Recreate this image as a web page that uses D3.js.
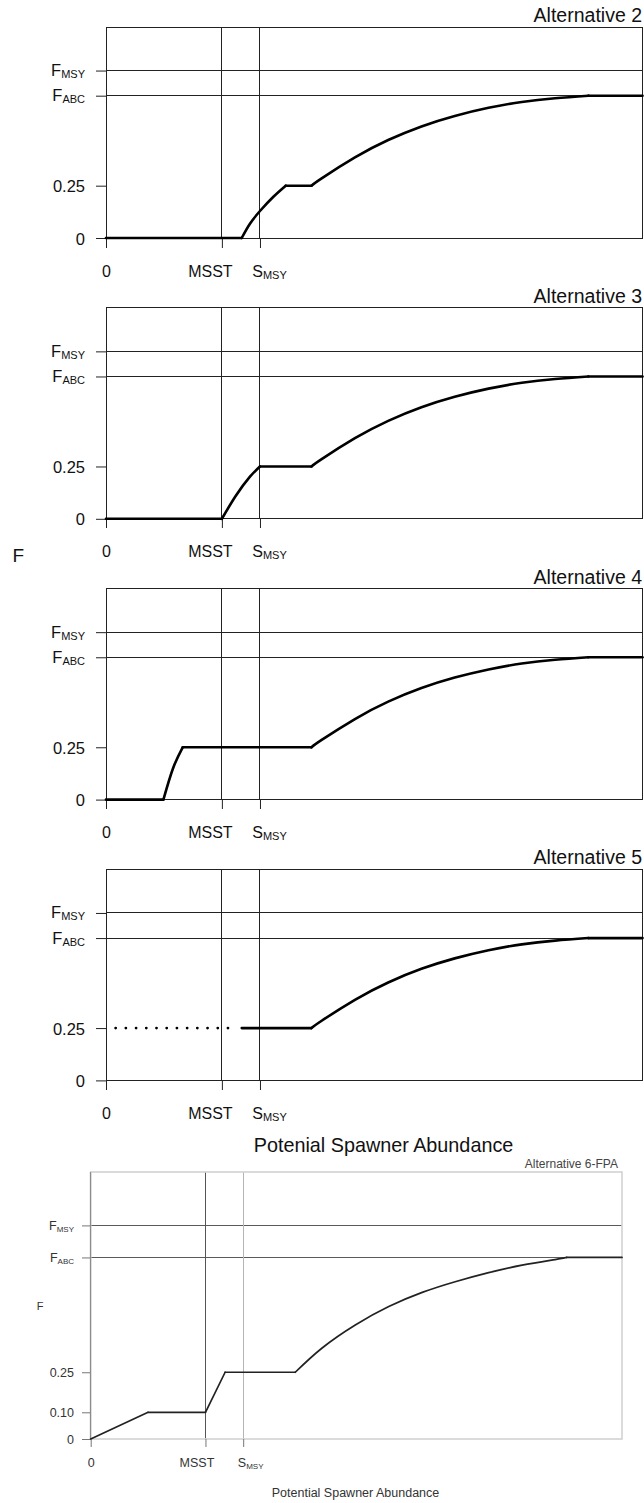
<!DOCTYPE html>
<html><head><meta charset="utf-8">
<script src="https://cdn.jsdelivr.net/npm/d3@7"></script>
<style>body{margin:0;background:#fff} svg{display:block} text{font-family:"Liberation Sans",Arial,sans-serif}</style>
</head><body><svg id="c" width="644" height="1503"></svg>
<script>
// ---------------- data ----------------
const panelTitles = ["Alternative 2", "Alternative 3", "Alternative 4", "Alternative 5"];
const alt6Title = "Alternative 6-FPA";
const mainTitle = "Potenial Spawner Abundance";
const xAxisTitle = "Potential Spawner Abundance";
const yAxisTitle = "F";

const xTickValues = [0, 21.6, 28.7];
const xTickLabels = [["0", ""], ["MSST", ""], ["S", "MSY"]];
const yTickValues = [0, 0.25, 0.68, 0.80];
const yTickLabels = [["0", ""], ["0.25", ""], ["F", "ABC"], ["F", "MSY"]];
const yTickValues6 = [0, 0.10, 0.25, 0.68, 0.80];
const yTickLabels6 = [["0", ""], ["0.10", ""], ["0.25", ""], ["F", "ABC"], ["F", "MSY"]];

const refLevels = [0.80, 0.68];   // F_MSY, F_ABC
const refStocks = [21.6, 28.7];   // MSST, S_MSY

// shared upper control-rule curve (Alternatives 2-5)
const upperCurve = [[38.3, 0.25], [40.2, 0.285], [46.4, 0.385], [52.6, 0.468], [58.8, 0.533],
  [65.0, 0.583], [71.3, 0.622], [77.5, 0.650], [83.7, 0.668], [89.9, 0.68]];
const topFlat = [[89.9, 0.68], [100, 0.68]];

const alt2 = [
  [[0, 0], [25.3, 0]],
  [[25.3, 0], [26.8, 0.067], [28.7, 0.129], [31.2, 0.197], [33.5, 0.25]],
  [[33.5, 0.25], [38.3, 0.25]],
  upperCurve, topFlat];
const alt3 = [
  [[0, 0], [21.6, 0]],
  [[21.6, 0], [24.2, 0.11], [26.8, 0.20], [28.7, 0.25]],
  [[28.7, 0.25], [38.3, 0.25]],
  upperCurve, topFlat];
const alt4 = [
  [[0, 0], [10.7, 0]],
  [[10.7, 0], [12.5, 0.15], [14.3, 0.25]],
  [[14.3, 0.25], [38.3, 0.25]],
  upperCurve, topFlat];
const alt5 = [
  [[25.3, 0.25], [38.3, 0.25]],
  upperCurve, topFlat];
const alt5Dotted = [[1.8, 0.25], [24.6, 0.25]];

const alt6Curve = [[38.5, 0.25], [43.5, 0.34], [49.8, 0.427], [56.1, 0.496], [62.4, 0.549],
  [68.6, 0.589], [74.9, 0.623], [81.2, 0.651], [87.4, 0.672], [89.6, 0.68]];
const alt6 = [
  [[0, 0], [10.8, 0.10]],
  [[10.8, 0.10], [21.6, 0.10]],
  [[21.6, 0.10], [25.3, 0.25]],
  [[25.3, 0.25], [38.5, 0.25]],
  alt6Curve,
  [[89.6, 0.68], [100, 0.68]]];

const solidSeries = [alt2, alt3, alt4, alt5];

// ---------------- drawing ----------------
const svg = d3.select("#c");
const crisp = v => Math.round(v - 0.5) + 0.5;

function labelTspans(textSel, labels, mainSize, subSize, subDy) {
  textSel.each(function (d, i) {
    const t = d3.select(this);
    const [main, sub] = labels[i];
    t.text(null);
    t.append("tspan").attr("font-size", mainSize).text(main);
    if (sub) t.append("tspan").attr("font-size", subSize).attr("dy", subDy).text(sub);
  });
}

function drawPieces(g, x, y, pieces, color, width) {
  pieces.forEach(p => {
    const line = d3.line().x(d => x(d[0])).y(d => y(d[1]))
      .curve(p.length > 2 ? d3.curveNatural : d3.curveLinear);
    g.append("path").attr("d", line(p)).attr("fill", "none")
      .attr("stroke", color).attr("stroke-width", width)
      .attr("stroke-linecap", "round").attr("stroke-linejoin", "round");
  });
}

// Panels: Alternatives 2-5
for (let i = 0; i < 4; i++) {
  const bottom = 238 + i * 280.8;
  const top = 27 + i * 280.8;
  const x = d3.scaleLinear().domain([0, 100]).range([106, 642.5]);
  const y = d3.scaleLinear().domain([0, 1]).range([bottom, bottom - 209.3]);
  const g = svg.append("g");

  g.selectAll(".h").data(refLevels).join("line")
    .attr("x1", x(0)).attr("x2", x(100))
    .attr("y1", d => crisp(y(d))).attr("y2", d => crisp(y(d)))
    .attr("stroke", "#222").attr("stroke-width", 1);
  g.selectAll(".v").data(refStocks).join("line")
    .attr("x1", d => crisp(x(d))).attr("x2", d => crisp(x(d)))
    .attr("y1", crisp(top)).attr("y2", crisp(y(0)))
    .attr("stroke", "#222").attr("stroke-width", 1);

  g.append("rect").attr("x", crisp(x(0))).attr("y", crisp(top))
    .attr("width", crisp(x(100)) - crisp(x(0))).attr("height", crisp(y(0)) - crisp(top))
    .attr("fill", "none").attr("stroke", "#222").attr("stroke-width", 1);

  const ya = g.append("g").attr("transform", `translate(${crisp(x(0)) - 0.5},0)`)
    .call(d3.axisLeft(y).tickValues(yTickValues).tickSize(10).tickPadding(11));
  ya.select(".domain").remove();
  ya.selectAll(".tick line").attr("stroke", "#222");
  const yt = ya.selectAll(".tick text").attr("fill", "#111").attr("font-family", null)
    .attr("dy", (d) => (d > 0.5 ? "5" : "6"));
  labelTspans(yt, yTickLabels, "16.5px", "11px", 2);

  const xa = g.append("g").attr("transform", `translate(0,${crisp(y(0)) - 0.5})`)
    .call(d3.axisBottom(x).tickValues(xTickValues).tickSize(10));
  xa.select(".domain").remove();
  xa.selectAll(".tick line").attr("stroke", "#222");
  const xt = xa.selectAll(".tick text").attr("fill", "#111").attr("font-family", null)
    .attr("y", 38.5).attr("dy", 0)
    .attr("dx", (d, k) => [0, -12, 9][k]);
  labelTspans(xt, xTickLabels, "16px", "11px", 2);

  g.append("text").attr("x", 642).attr("y", top - 5).attr("text-anchor", "end")
    .attr("font-size", "19.5px").attr("fill", "#111").text(panelTitles[i]);

  drawPieces(g, x, y, solidSeries[i], "#000", 2.6);
  if (i === 3) {
    g.append("path").attr("d", d3.line().x(d => x(d[0])).y(d => y(d[1]))(alt5Dotted))
      .attr("fill", "none").attr("stroke", "#000").attr("stroke-width", 2.8)
      .attr("stroke-linecap", "round").attr("stroke-dasharray", "0.01 10.2");
  }
}

svg.append("text").attr("x", 12.5).attr("y", 561.5).attr("font-size", "19px")
  .attr("fill", "#111").text(yAxisTitle);

// Panel: Alternative 6-FPA
{
  const x = d3.scaleLinear().domain([0, 100]).range([90.7, 622]);
  const y = d3.scaleLinear().domain([0, 1]).range([1439, 1172]);
  const g = svg.append("g");

  g.append("text").attr("x", 383.5).attr("y", 1151.5).attr("text-anchor", "middle")
    .attr("font-size", "19.8px").attr("fill", "#111").text(mainTitle);
  g.append("text").attr("x", 618).attr("y", 1168).attr("text-anchor", "end")
    .attr("font-size", "12px").attr("fill", "#444").text(alt6Title);

  g.selectAll(".h").data(refLevels).join("line")
    .attr("x1", x(0)).attr("x2", x(100))
    .attr("y1", d => crisp(y(d))).attr("y2", d => crisp(y(d)))
    .attr("stroke", "#5a5a5a").attr("stroke-width", 1);
  g.selectAll(".v").data(refStocks).join("line")
    .attr("x1", d => crisp(x(d))).attr("x2", d => crisp(x(d)))
    .attr("y1", 1172).attr("y2", y(0))
    .attr("stroke", (d, k) => k === 0 ? "#555" : "#b5b5b5").attr("stroke-width", 1);

  g.append("rect").attr("x", x(0)).attr("y", 1172)
    .attr("width", x(100) - x(0)).attr("height", y(0) - 1172)
    .attr("fill", "none").attr("stroke", "#d2d2d2").attr("stroke-width", 1.6);
  g.append("line").attr("x1", crisp(x(0))).attr("x2", crisp(x(0)))
    .attr("y1", 1172).attr("y2", y(0)).attr("stroke", "#8c8c8c").attr("stroke-width", 1.2);

  const ya = g.append("g").attr("transform", `translate(${crisp(x(0)) - 0.5},0)`)
    .call(d3.axisLeft(y).tickValues(yTickValues6).tickSize(8).tickPadding(8));
  ya.select(".domain").remove();
  ya.selectAll(".tick line").attr("stroke", "#777");
  const yt = ya.selectAll(".tick text").attr("fill", "#333").attr("font-family", null)
    .attr("dy", "4.5");
  labelTspans(yt, yTickLabels6, "12.5px", "8px", 1.5);

  const xa = g.append("g").attr("transform", `translate(0,${crisp(y(0)) - 0.5})`)
    .call(d3.axisBottom(x).tickValues(xTickValues).tickSize(8));
  xa.select(".domain").remove();
  xa.selectAll(".tick line").attr("stroke", "#777");
  const xt = xa.selectAll(".tick text").attr("fill", "#333").attr("font-family", null)
    .attr("y", 28).attr("dy", 0)
    .attr("dx", (d, k) => [0, -9, 7][k]);
  labelTspans(xt, xTickLabels, "12.5px", "8px", 1.5);

  g.append("text").attr("x", 40).attr("y", 1310).attr("text-anchor", "middle")
    .attr("font-size", "11px").attr("fill", "#333").text(yAxisTitle);
  g.append("text").attr("x", 355.5).attr("y", 1496.5).attr("text-anchor", "middle")
    .attr("font-size", "12.5px").attr("fill", "#333").text(xAxisTitle);

  drawPieces(g, x, y, alt6, "#222", 1.7);
}
</script></body></html>
